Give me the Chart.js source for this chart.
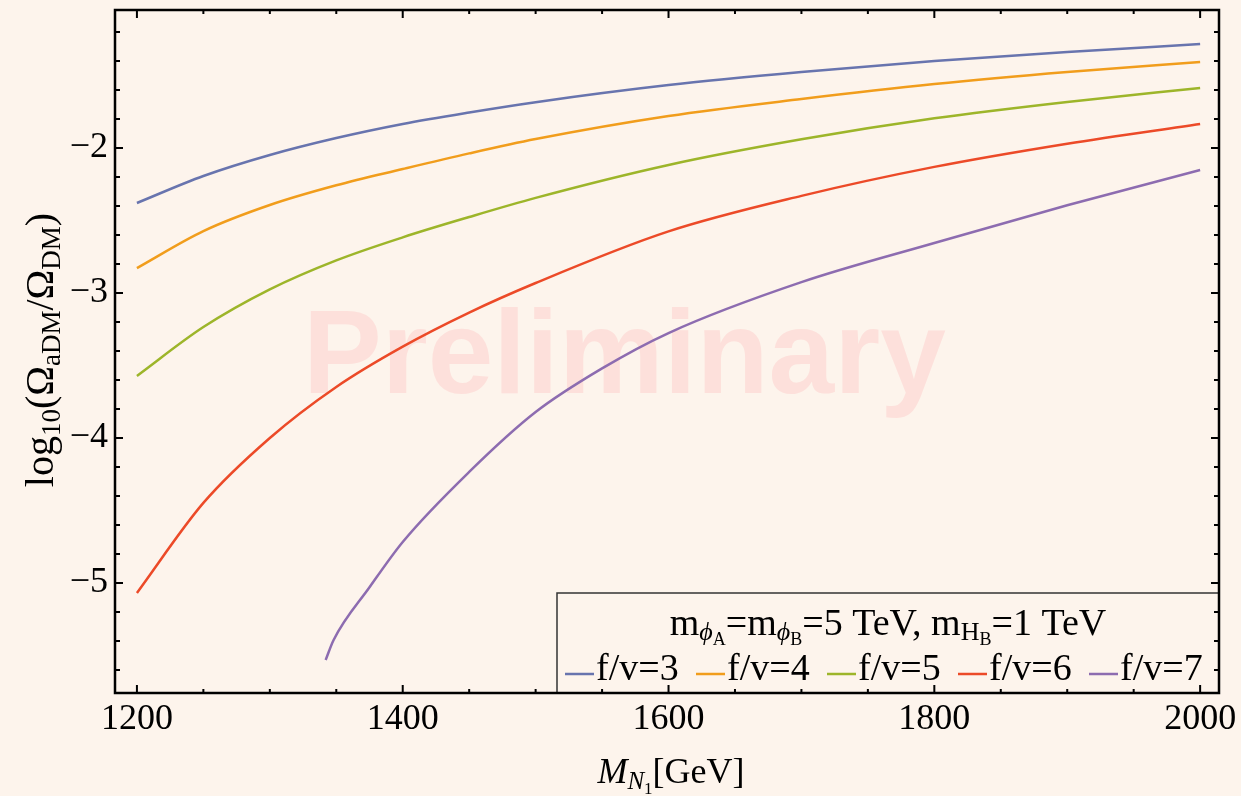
<!DOCTYPE html>
<html>
<head>
<meta charset="utf-8">
<script src="https://cdn.jsdelivr.net/npm/chart.js@4.4.1/dist/chart.umd.min.js"></script>
<style>
  html, body { margin: 0; padding: 0; background: #fdf4ec; }
  canvas { display: block; }
</style>
</head>
<body>
<canvas id="relicChart" width="1241" height="796"></canvas>
<script>
// ── Data ──
const mass       = [1200, 1250, 1300, 1350, 1400, 1450, 1500, 1600, 1700, 1800, 1900, 2000];
const fv3        = [-2.379, -2.193, -2.048, -1.931, -1.834, -1.755, -1.684, -1.566, -1.476, -1.400, -1.338, -1.283];
const fv4        = [-2.828, -2.573, -2.393, -2.257, -2.145, -2.037, -1.938, -1.779, -1.662, -1.559, -1.476, -1.407];
const fv5        = [-3.572, -3.235, -2.975, -2.775, -2.616, -2.476, -2.344, -2.117, -1.940, -1.795, -1.682, -1.586];
const fv6        = [-5.069, -4.448, -4.000, -3.648, -3.370, -3.135, -2.931, -2.575, -2.330, -2.130, -1.970, -1.834];
const massFv7    = [1342, 1348, 1375, 1400, 1450, 1500, 1550, 1600, 1700, 1800, 1900, 2000];
const fv7        = [-5.531, -5.393, -5.030, -4.717, -4.234, -3.821, -3.520, -3.276, -2.925, -2.655, -2.395, -2.152];

const seriesLabels = ['f/v=3', 'f/v=4', 'f/v=5', 'f/v=6', 'f/v=7'];
const seriesColors = ['#6874ae', '#f19d1c', '#9db52a', '#ec4a28', '#8d6cb0'];

const xTicks = [1200, 1400, 1600, 1800, 2000];
const yTicks = [-5, -4, -3, -2];

const BG    = '#fdf4ec';
const SERIF = '"Liberation Serif", "DejaVu Serif", serif';

// ── Helpers ──
const pts = (xs, ys) => xs.map((m, i) => ({ x: m, y: ys[i] }));
const minusSign = v => (v < 0 ? '\u2212' + Math.abs(v) : String(v));
const noPad = axis => { axis.paddingTop = 0; axis.paddingBottom = 0; axis.paddingLeft = 0; axis.paddingRight = 0; };

// draw a run of text pieces with sub/superscripts
function richWidth(ctx, parts) {
  let w = 0;
  parts.forEach(p => {
    ctx.font = (p.it ? 'italic ' : '') + p.s + 'px ' + SERIF;
    w += ctx.measureText(p.t).width;
  });
  return w;
}
function drawRich(ctx, parts, x, y, align) {
  const w = richWidth(ctx, parts);
  let cx = align === 'center' ? x - w / 2 : x;
  ctx.textBaseline = 'alphabetic';
  ctx.textAlign = 'left';
  parts.forEach(p => {
    ctx.font = (p.it ? 'italic ' : '') + p.s + 'px ' + SERIF;
    ctx.fillText(p.t, cx, y + (p.dy || 0));
    cx += ctx.measureText(p.t).width;
  });
}

// ── Plugins ──
const background = {
  id: 'background',
  beforeDraw(chart) {
    const { ctx, width, height } = chart;
    ctx.save();
    ctx.fillStyle = BG;
    ctx.fillRect(0, 0, width, height);
    ctx.restore();
  }
};

const watermark = {
  id: 'watermark',
  beforeDatasetsDraw(chart) {
    const { ctx } = chart;
    ctx.save();
    ctx.fillStyle = '#fde0db';
    ctx.font = 'bold 118px "Liberation Sans", Arial, sans-serif';
    ctx.textBaseline = 'alphabetic';
    ctx.fillText('Preliminary', 303, 393);
    ctx.restore();
  }
};

const legendBox = {
  id: 'legendBox',
  afterDatasetsDraw(chart) {
    const { ctx, chartArea: a } = chart;
    const left = 557, top = 593;
    ctx.save();
    ctx.fillStyle = BG;
    ctx.fillRect(left, top, a.right - left, a.bottom - top);
    ctx.strokeStyle = '#333';
    ctx.lineWidth = 1.5;
    ctx.strokeRect(left, top, a.right - left, a.bottom - top);

    ctx.fillStyle = '#000';
    drawRich(ctx, [
      { t: 'm', s: 38 }, { t: '\u03d5', s: 26, dy: 5, it: true }, { t: 'A', s: 18, dy: 10 },
      { t: '=m', s: 38 }, { t: '\u03d5', s: 26, dy: 5, it: true }, { t: 'B', s: 18, dy: 10 },
      { t: '=5 TeV, m', s: 38 }, { t: 'H', s: 26, dy: 5 }, { t: 'B', s: 18, dy: 10 },
      { t: '=1 TeV', s: 38 }
    ], (left + a.right) / 2, 635, 'center');

    chart.data.datasets.forEach((ds, i) => {
      const x0 = 565 + i * 131;
      ctx.strokeStyle = ds.borderColor;
      ctx.lineWidth = 2.5;
      ctx.beginPath();
      ctx.moveTo(x0, 674);
      ctx.lineTo(x0 + 29, 674);
      ctx.stroke();
      ctx.fillStyle = '#000';
      ctx.font = '38px ' + SERIF;
      ctx.textAlign = 'left';
      ctx.fillText(ds.label, x0 + 31, 680);
    });
    ctx.restore();
  }
};

const frameTicks = {
  id: 'frameTicks',
  afterDraw(chart) {
    const { ctx, chartArea: a, scales: { x, y } } = chart;
    ctx.save();
    ctx.strokeStyle = '#000';
    ctx.lineWidth = 2;
    ctx.beginPath();
    // x ticks, bottom and top (inward)
    for (let m = 1200; m <= 2000; m += 50) {
      const px = x.getPixelForValue(m);
      const len = xTicks.includes(m) ? 8 : 4;
      ctx.moveTo(px, a.bottom); ctx.lineTo(px, a.bottom - len);
      ctx.moveTo(px, a.top);    ctx.lineTo(px, a.top + len);
    }
    // y ticks, left and right (inward)
    for (let k = -28; k <= -6; k++) {
      const py = y.getPixelForValue(k / 5);
      const len = k % 5 === 0 ? 8 : 5;
      ctx.moveTo(a.left, py);  ctx.lineTo(a.left + len, py);
      ctx.moveTo(a.right, py); ctx.lineTo(a.right - len, py);
    }
    ctx.stroke();
    ctx.lineWidth = 2.5;
    ctx.strokeRect(a.left, a.top, a.right - a.left, a.bottom - a.top);

    // axis titles
    ctx.fillStyle = '#000';
    drawRich(ctx, [
      { t: 'M', s: 36, it: true }, { t: 'N', s: 25, dy: 6, it: true }, { t: '1', s: 17, dy: 11 },
      { t: '[GeV]', s: 36 }
    ], (a.left + a.right) / 2 + 4, 783, 'center');

    ctx.translate(53, 350);
    ctx.rotate(-Math.PI / 2);
    drawRich(ctx, [
      { t: 'log', s: 40 }, { t: '10', s: 27, dy: 7 },
      { t: '(\u03a9', s: 40 }, { t: 'aDM', s: 27, dy: 7 },
      { t: '/\u03a9', s: 40 }, { t: 'DM', s: 27, dy: 7 },
      { t: ')', s: 40 }
    ], 0, 0, 'center');
    ctx.restore();
  }
};

// ── Chart ──
const curves = [pts(mass, fv3), pts(mass, fv4), pts(mass, fv5), pts(mass, fv6), pts(massFv7, fv7)];

new Chart(document.getElementById('relicChart').getContext('2d'), {
  type: 'line',
  data: {
    datasets: curves.map((d, i) => ({
      label: seriesLabels[i],
      data: d,
      borderColor: seriesColors[i],
      backgroundColor: 'transparent',
      borderWidth: 2.5,
      pointRadius: 0,
      fill: false,
      cubicInterpolationMode: 'monotone'
    }))
  },
  options: {
    responsive: false,
    animation: false,
    layout: { padding: { top: 10, right: 22, left: 0, bottom: 0 } },
    plugins: { legend: { display: false }, tooltip: { enabled: false } },
    scales: {
      x: {
        type: 'linear',
        min: 1183.5,
        max: 2014.2,
        grid: { display: false, drawTicks: false },
        border: { display: false },
        afterBuildTicks: axis => { axis.ticks = xTicks.map(v => ({ value: v })); },
        afterFit: axis => { axis.height = 103; noPad(axis); },
        ticks: { color: '#000', padding: 5, font: { family: SERIF, size: 36 }, maxRotation: 0, callback: v => String(v) }
      },
      y: {
        type: 'linear',
        min: -5.759,
        max: -1.048,
        grid: { display: false, drawTicks: false },
        border: { display: false },
        afterBuildTicks: axis => { axis.ticks = yTicks.map(v => ({ value: v })); },
        afterFit: axis => { axis.width = 115; noPad(axis); },
        ticks: { color: '#000', padding: 7, font: { family: SERIF, size: 36 }, callback: minusSign }
      }
    }
  },
  plugins: [background, watermark, legendBox, frameTicks]
});
</script>
</body>
</html>
